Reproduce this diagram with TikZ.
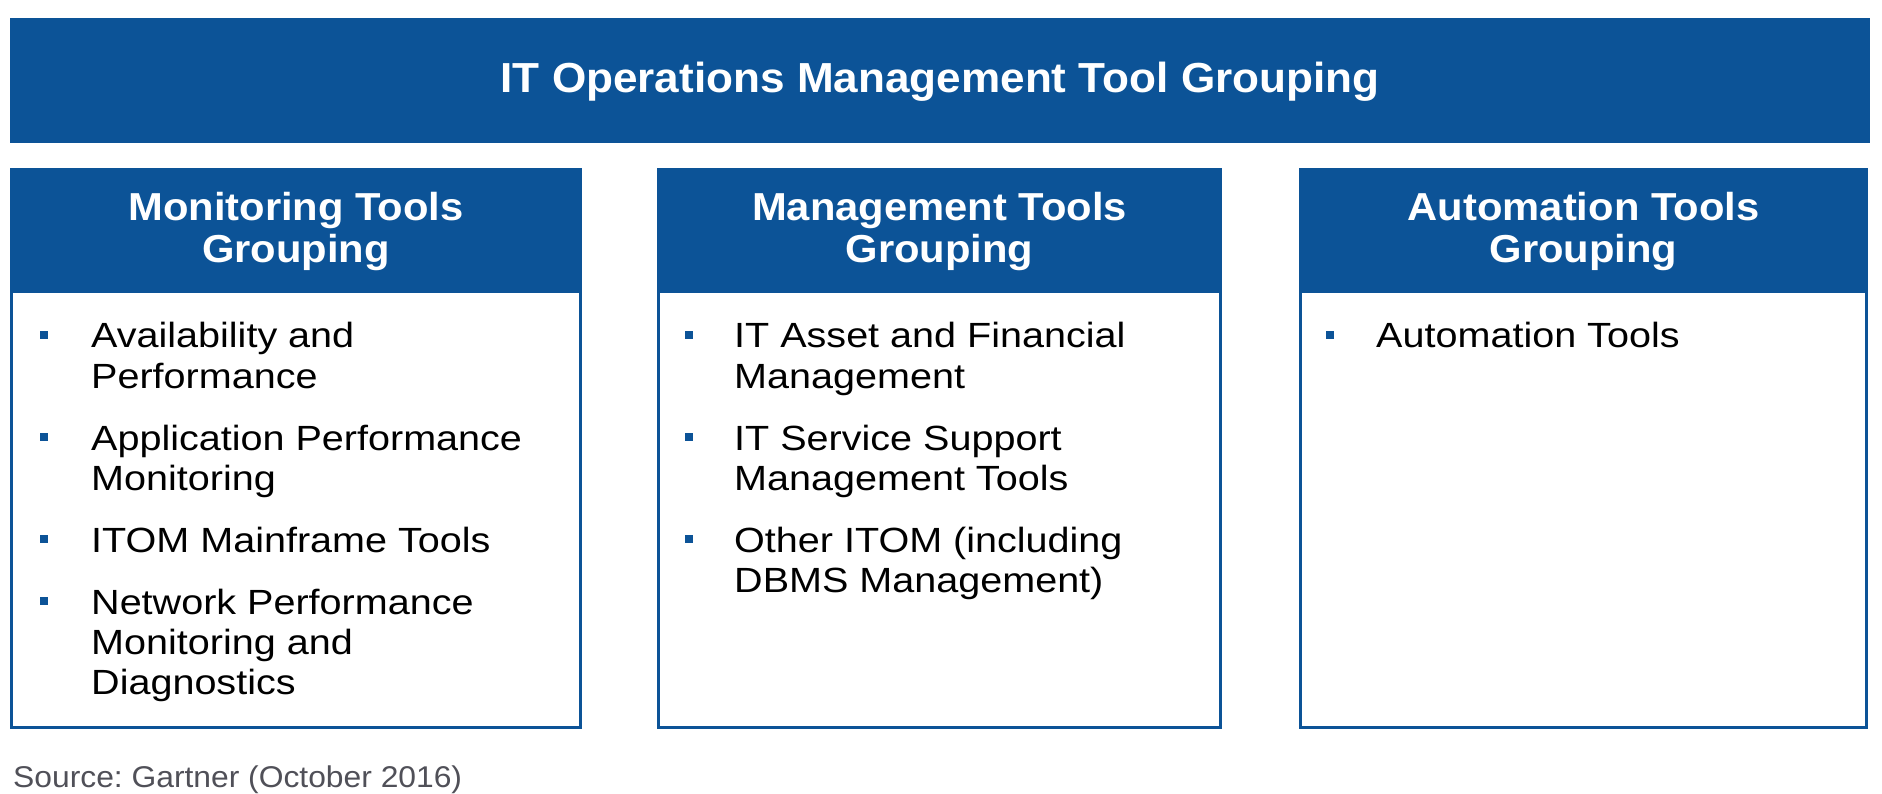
\documentclass[tikz,border=0pt]{standalone}
\usepackage{fontspec}
\setmainfont{Liberation Sans}
\newfontfamily\titlefont[FakeStretch=1.05]{Liberation Sans}
\newfontfamily\headfont[FakeStretch=1.07]{Liberation Sans}
\newfontfamily\bodyfont[FakeStretch=1.13]{Liberation Sans}
\newfontfamily\srcfont[FakeStretch=1.06]{Liberation Sans}
\definecolor{itomblue}{RGB}{12,83,151}
\definecolor{srcgray}{RGB}{80,80,88}
\frenchspacing

\begin{document}
\begin{tikzpicture}[x=1pt, y=-1pt,
    % Define the styles for the boxes
    banner/.style={fill=itomblue},
    headbox/.style={fill=itomblue},
    bodybox/.style={draw=itomblue, line width=3pt},
    bullet/.style={fill=itomblue},
    % Define the styles for the texts
    titletext/.style={text=white, inner sep=0pt, font=\titlefont\bfseries\fontsize{42}{48}\selectfont},
    headtext/.style={text=white, inner sep=0pt, align=center, font=\headfont\bfseries\fontsize{39}{42}\selectfont},
    itemtext/.style={anchor=base west, inner sep=0pt, align=left, font=\bodyfont\fontsize{35}{40}\selectfont}
]

\useasboundingbox[fill=white] (0,0) rectangle (1882,794);

% Draw the banner
\fill[banner] (10,18) rectangle (1870,143);
\node[titletext, anchor=base] (title) at (940,93) {IT Operations Management Tool Grouping};

% Draw the three columns (base of the last heading line)
\foreach \l/\r/\n/\txt in {10/582/mon/{Monitoring Tools\\Grouping},
                           657/1222/mgmt/{Management Tools\\Grouping},
                           1299/1868/auto/{Automation Tools\\Grouping}} {
  \fill[headbox] (\l,168) rectangle (\r,292);
  \draw[bodybox] (\l+1.5,292) rectangle (\r-1.5,727.5);
  \node[headtext, anchor=base] (\n-head) at ({(\l+\r)/2},263) {\txt};
}

% Monitoring items: first baseline / extra lines / text
\foreach \y/\k/\txt [count=\i] in {348/1/{Availability and\\Performance},
                                   450/1/{Application Performance\\Monitoring},
                                   552/0/{ITOM Mainframe Tools},
                                   614/2/{Network Performance\\Monitoring and\\Diagnostics}} {
  \fill[bullet] (40,\y-17) rectangle ++(8,8);
  \node[itemtext] (mon-\i) at (91,\y+40*\k) {\txt};
}

% Management items
\foreach \y/\k/\txt [count=\i] in {348/1/{IT Asset and Financial\\Management},
                                   450/1/{IT Service Support\\Management Tools},
                                   552/1/{Other ITOM (including\\DBMS Management)}} {
  \fill[bullet] (685,\y-17) rectangle ++(8,8);
  \node[itemtext] (mgmt-\i) at (734,\y+40*\k) {\txt};
}

% Automation items
\fill[bullet] (1326,331) rectangle ++(8,8);
\node[itemtext] (auto-1) at (1376,348) {Automation Tools};

% Add the source line
\node[anchor=base west, inner sep=0pt, text=srcgray, font=\srcfont\fontsize{30}{32}\selectfont] (source) at (13,787) {Source: Gartner (October 2016)};

\end{tikzpicture}
\end{document}
